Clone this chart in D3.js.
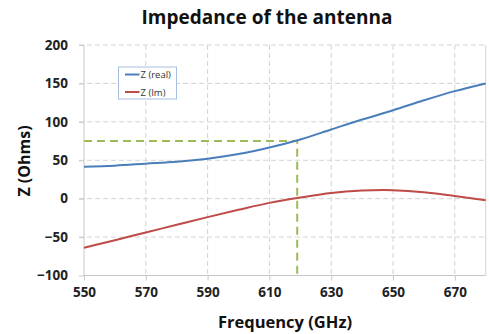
<!DOCTYPE html>
<html>
<head>
<meta charset="utf-8">
<style>
body { margin: 0; background: #fff; }
text { font-family: "Open Sans", "Noto Sans", sans-serif; }
</style>
</head>
<body>
<div id="chart"></div>
<script src="https://cdn.jsdelivr.net/npm/d3@7"></script>
<script>

// data
var freq   = [550, 560, 570, 580, 590, 600, 610, 620, 630, 640, 650, 660, 670, 680];
var z_real = [41.5, 43, 45.5, 48, 52, 58, 66.5, 77, 90, 103, 115, 128, 140, 150];
var z_im   = [-64, -54, -44, -34, -24, -14.5, -5.5, 1.5, 7.5, 10.5, 11, 8.5, 3.5, -2];
var marker = { freq: 619, z: 75 };
var x_ticks = [550, 570, 590, 610, 630, 650, 670];
var y_ticks = [-100, -50, 0, 50, 100, 150, 200];
var series_names = ['Z (real)', 'Z (Im)'];

var size = { width: 489, height: 334 };
var plot = { left: 84, right: 485.7, top: 45, bottom: 275.5 };

var svg = d3.select('#chart')
	.append('svg')
		.attr('width', size.width)
		.attr('height', size.height);

var x = d3.scaleLinear().domain([550, 680]).range([plot.left, plot.right]);
var y = d3.scaleLinear().domain([-100, 200]).range([plot.bottom, plot.top]);

// grid
svg.append('g')
	.selectAll('line')
	.data(y_ticks.filter(function(d) { return d > -100; }))
	.enter().append('line')
		.attr('x1', plot.left - 5).attr('x2', plot.right)
		.attr('y1', function(d) { return y(d); })
		.attr('y2', function(d) { return y(d); })
		.attr('stroke', '#d4d4d4')
		.attr('stroke-dasharray', '5,3');

svg.append('g')
	.selectAll('line')
	.data(x_ticks.filter(function(d) { return d > 550; }))
	.enter().append('line')
		.attr('x1', function(d) { return x(d); })
		.attr('x2', function(d) { return x(d); })
		.attr('y1', plot.top).attr('y2', plot.bottom)
		.attr('stroke', '#d4d4d4')
		.attr('stroke-dasharray', '5,3');

// axes
var xAxis = svg.append('g')
	.attr('transform', 'translate(0,' + plot.bottom + ')')
	.call(d3.axisBottom(x).tickValues(x_ticks).tickSize(5).tickPadding(7).tickFormat(d3.format('d')));
var yAxis = svg.append('g')
	.attr('transform', 'translate(' + plot.left + ',0)')
	.call(d3.axisLeft(y).tickValues(y_ticks).tickSize(5).tickPadding(11).tickFormat(d3.format('d')));

[xAxis, yAxis].forEach(function(a) {
	a.select('.domain').attr('stroke', '#c8c8c8');
	a.selectAll('.tick line').attr('stroke', '#c8c8c8');
	a.selectAll('.tick text')
		.attr('font-family', '"Open Sans", sans-serif')
		.attr('font-size', 13.5)
		.attr('font-weight', 'bold')
		.attr('fill', '#222');
});
yAxis.select('.domain').attr('d', 'M0,' + plot.top + 'V' + plot.bottom);
xAxis.select('.domain').attr('d', 'M' + plot.left + ',0H' + plot.right);

svg.append('line')
	.attr('x1', plot.right).attr('x2', plot.right)
	.attr('y1', plot.top).attr('y2', plot.bottom)
	.attr('stroke', '#d4d4d4');

// green marker
svg.append('path')
	.attr('d', d3.line()([
		[x(550), y(marker.z)],
		[x(marker.freq), y(marker.z)],
		[x(marker.freq), y(-100)]
	]))
	.attr('fill', 'none')
	.attr('stroke', '#9bbb59')
	.attr('stroke-width', 2)
	.attr('stroke-dasharray', '8,5');

// series
var line = d3.line()
	.x(function(d) { return x(d[0]); })
	.y(function(d) { return y(d[1]); })
	.curve(d3.curveCatmullRom);

var colors = ['#4a7ebb', '#be4b48'];
[z_real, z_im].forEach(function(vals, i) {
	svg.append('path')
		.attr('d', line(freq.map(function(f, j) { return [f, vals[j]]; })))
		.attr('fill', 'none')
		.attr('stroke', colors[i])
		.attr('stroke-width', 2);
});

// legend
var legend = svg.append('g').attr('transform', 'translate(118.5,67)');
legend.append('rect')
	.attr('width', 58).attr('height', 32)
	.attr('fill', '#fff')
	.attr('stroke', '#a7bfdd');
series_names.forEach(function(name, i) {
	var ly = 7.5 + i * 17.5;
	legend.append('line')
		.attr('x1', 6.5).attr('x2', 21)
		.attr('y1', ly).attr('y2', ly)
		.attr('stroke', colors[i])
		.attr('stroke-width', 2);
	legend.append('text')
		.attr('x', 22).attr('y', ly + 3.5)
		.attr('font-size', 9.5)
		.attr('fill', '#333')
		.text(name);
});

// titles
svg.append('text')
	.attr('x', 267).attr('y', 24)
	.attr('text-anchor', 'middle')
	.attr('font-size', 19)
	.attr('font-weight', 'bold')
	.attr('fill', '#111')
	.text('Impedance of the antenna');

svg.append('text')
	.attr('x', 285).attr('y', 328)
	.attr('text-anchor', 'middle')
	.attr('font-size', 16.5)
	.attr('font-weight', 'bold')
	.attr('fill', '#111')
	.text('Frequency (GHz)');

svg.append('text')
	.attr('transform', 'translate(30,161) rotate(-90)')
	.attr('text-anchor', 'middle')
	.attr('font-size', 16)
	.attr('font-weight', 'bold')
	.attr('fill', '#111')
	.text('Z (Ohms)');

</script>
</body>
</html>
